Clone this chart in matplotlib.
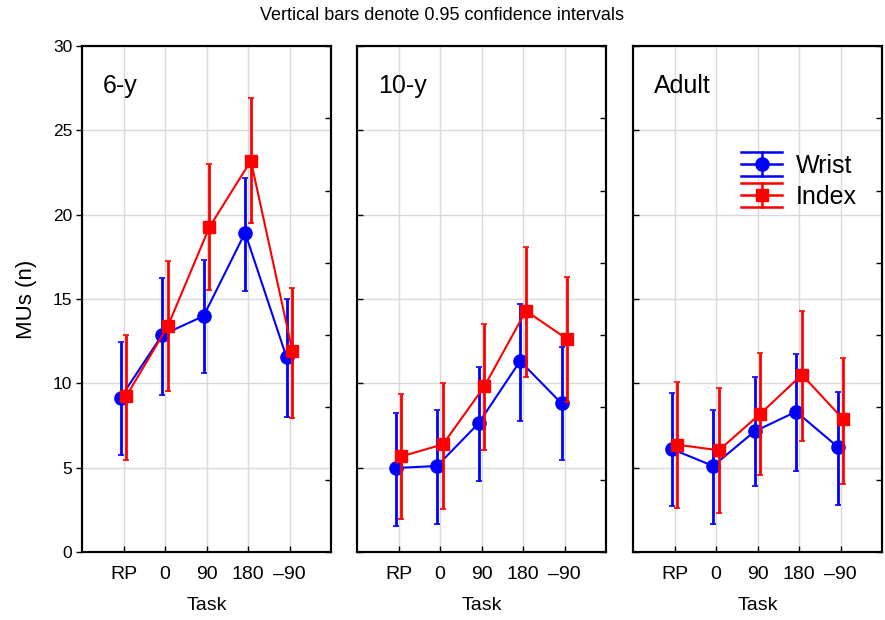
import matplotlib
matplotlib.use("Agg")
import matplotlib.pyplot as plt
from matplotlib.legend_handler import HandlerBase
from matplotlib.lines import Line2D

plt.rcParams['font.family'] = ['Liberation Sans', 'DejaVu Sans']

tasks = ["RP", "0", "90", "180", "\u201390"]
groups = ["6-y", "10-y", "Adult"]

# rows: 6-y, 10-y, Adult ; columns: RP, 0, 90, 180, -90
wrist_mean = [[9.15, 12.86, 13.99, 18.93, 11.54],
              [4.98, 5.10, 7.63, 11.32, 8.81],
              [6.11, 5.10, 7.15, 8.32, 6.24]]
wrist_low = [[5.73, 9.29, 10.61, 15.47, 8.02],
             [1.56, 1.68, 4.23, 7.79, 5.43],
             [2.75, 1.68, 3.91, 4.82, 2.81]]
wrist_high = [[12.43, 16.24, 17.31, 22.19, 14.98],
              [8.26, 8.40, 10.95, 14.68, 12.13],
              [9.45, 8.40, 10.39, 11.76, 9.50]]

index_mean = [[9.25, 13.40, 19.26, 23.20, 11.91],
              [5.67, 6.38, 9.82, 14.30, 12.61],
              [6.36, 6.03, 8.20, 10.51, 7.86]]
index_low = [[5.43, 9.52, 15.55, 19.48, 7.96],
             [1.94, 2.57, 6.07, 10.37, 8.87],
             [2.61, 2.31, 4.56, 6.60, 4.03]]
index_high = [[12.86, 17.23, 23.00, 26.91, 15.67],
              [9.38, 10.02, 13.50, 18.06, 16.30],
              [10.06, 9.74, 11.81, 14.27, 11.50]]


class CIHandler(HandlerBase):
    # errorbar legend glyph: wide caps, centre line, marker
    def create_artists(self, legend, orig_handle, xdescent, ydescent,
                       width, height, fontsize, trans):
        c = orig_handle.get_color()
        x0, x1 = -xdescent, width - xdescent
        cx = (x0 + x1) / 2
        cy = height / 2 - ydescent
        d = 8.6
        arts = [
            Line2D([x0, x1], [cy + d, cy + d], color=c, lw=1.8),
            Line2D([x0, x1], [cy, cy], color=c, lw=1.8),
            Line2D([x0, x1], [cy - d, cy - d], color=c, lw=1.8),
            Line2D([cx, cx], [cy - d, cy + d], color=c, lw=1.8),
            Line2D([cx], [cy], color=c, marker=orig_handle.get_marker(),
                   markersize=orig_handle.get_markersize(), lw=0),
        ]
        for a in arts:
            a.set_transform(trans)
        return arts


fig = plt.figure(figsize=(8.85, 6.2), dpi=100)
lefts = [82, 357, 633]
x = list(range(len(tasks)))

for i, g in enumerate(groups):
    ax = fig.add_axes([lefts[i] / 885, 68 / 620, 249 / 885, 506 / 620])
    ax.set_xlim(-1, 5)
    ax.set_ylim(0, 30)
    ax.set_xticks(x)
    ax.set_xticklabels(tasks, fontsize=14)
    ax.set_yticks(range(0, 31, 5))
    ax.grid(True, color="#d9d9d9", lw=1)
    ax.set_axisbelow(True)
    for s in ax.spines.values():
        s.set_linewidth(1.5)
    ax.tick_params(axis="x", direction="in", length=4, width=1, pad=10)
    if i == 0:
        ax.tick_params(axis="y", direction="out", length=4, width=1,
                       labelsize=12.5, pad=3)
        ax.set_ylabel("MUs (n)", fontsize=16, labelpad=11)
    else:
        ax.tick_params(axis="y", direction="in", length=4, width=1,
                       labelleft=False)
    ax.set_xlabel("Task", fontsize=14, labelpad=10)

    xw = [v - 0.07 for v in x]
    xi = [v + 0.07 for v in x]
    wm, wl, wh = wrist_mean[i], wrist_low[i], wrist_high[i]
    im, il, ih = index_mean[i], index_low[i], index_high[i]
    ax.errorbar(xw, wm, yerr=[[m - l for m, l in zip(wm, wl)],
                              [h - m for m, h in zip(wm, wh)]],
                color="#0000ff", lw=1.5, elinewidth=2, capsize=2,
                capthick=1.2, marker="o", markersize=9.5, zorder=3)
    ax.errorbar(xi, im, yerr=[[m - l for m, l in zip(im, il)],
                              [h - m for m, h in zip(im, ih)]],
                color="#ff0000", lw=1.5, elinewidth=2, capsize=2,
                capthick=1.2, marker="s", markersize=9, zorder=4)
    ax.text(0.085, 0.92, g, transform=ax.transAxes, fontsize=18,
            ha="left", va="center")

    tw = ax.twinx()
    tw.set_ylim(0, 7)
    tw.set_yticks(range(8))
    tw.tick_params(axis="y", direction="in", length=4, width=1,
                   labelright=False)
    for s in tw.spines.values():
        s.set_linewidth(1.5)

    if i == 2:
        hw = Line2D([], [], color="#0000ff", marker="o", markersize=9.5)
        hi = Line2D([], [], color="#ff0000", marker="s", markersize=9)
        tw.legend([hw, hi], ["Wrist", "Index"], loc="center left",
                  bbox_to_anchor=(0.435, 0.733), frameon=False, fontsize=18,
                  borderpad=0, borderaxespad=0, handlelength=1.64,
                  handletextpad=0.55, labelspacing=0.28,
                  handler_map={Line2D: CIHandler()})

fig.text(0.5, 1 - 16 / 620, "Vertical bars denote 0.95 confidence intervals",
         ha="center", va="center", fontsize=13)

fig.savefig("out.png", dpi=100)
